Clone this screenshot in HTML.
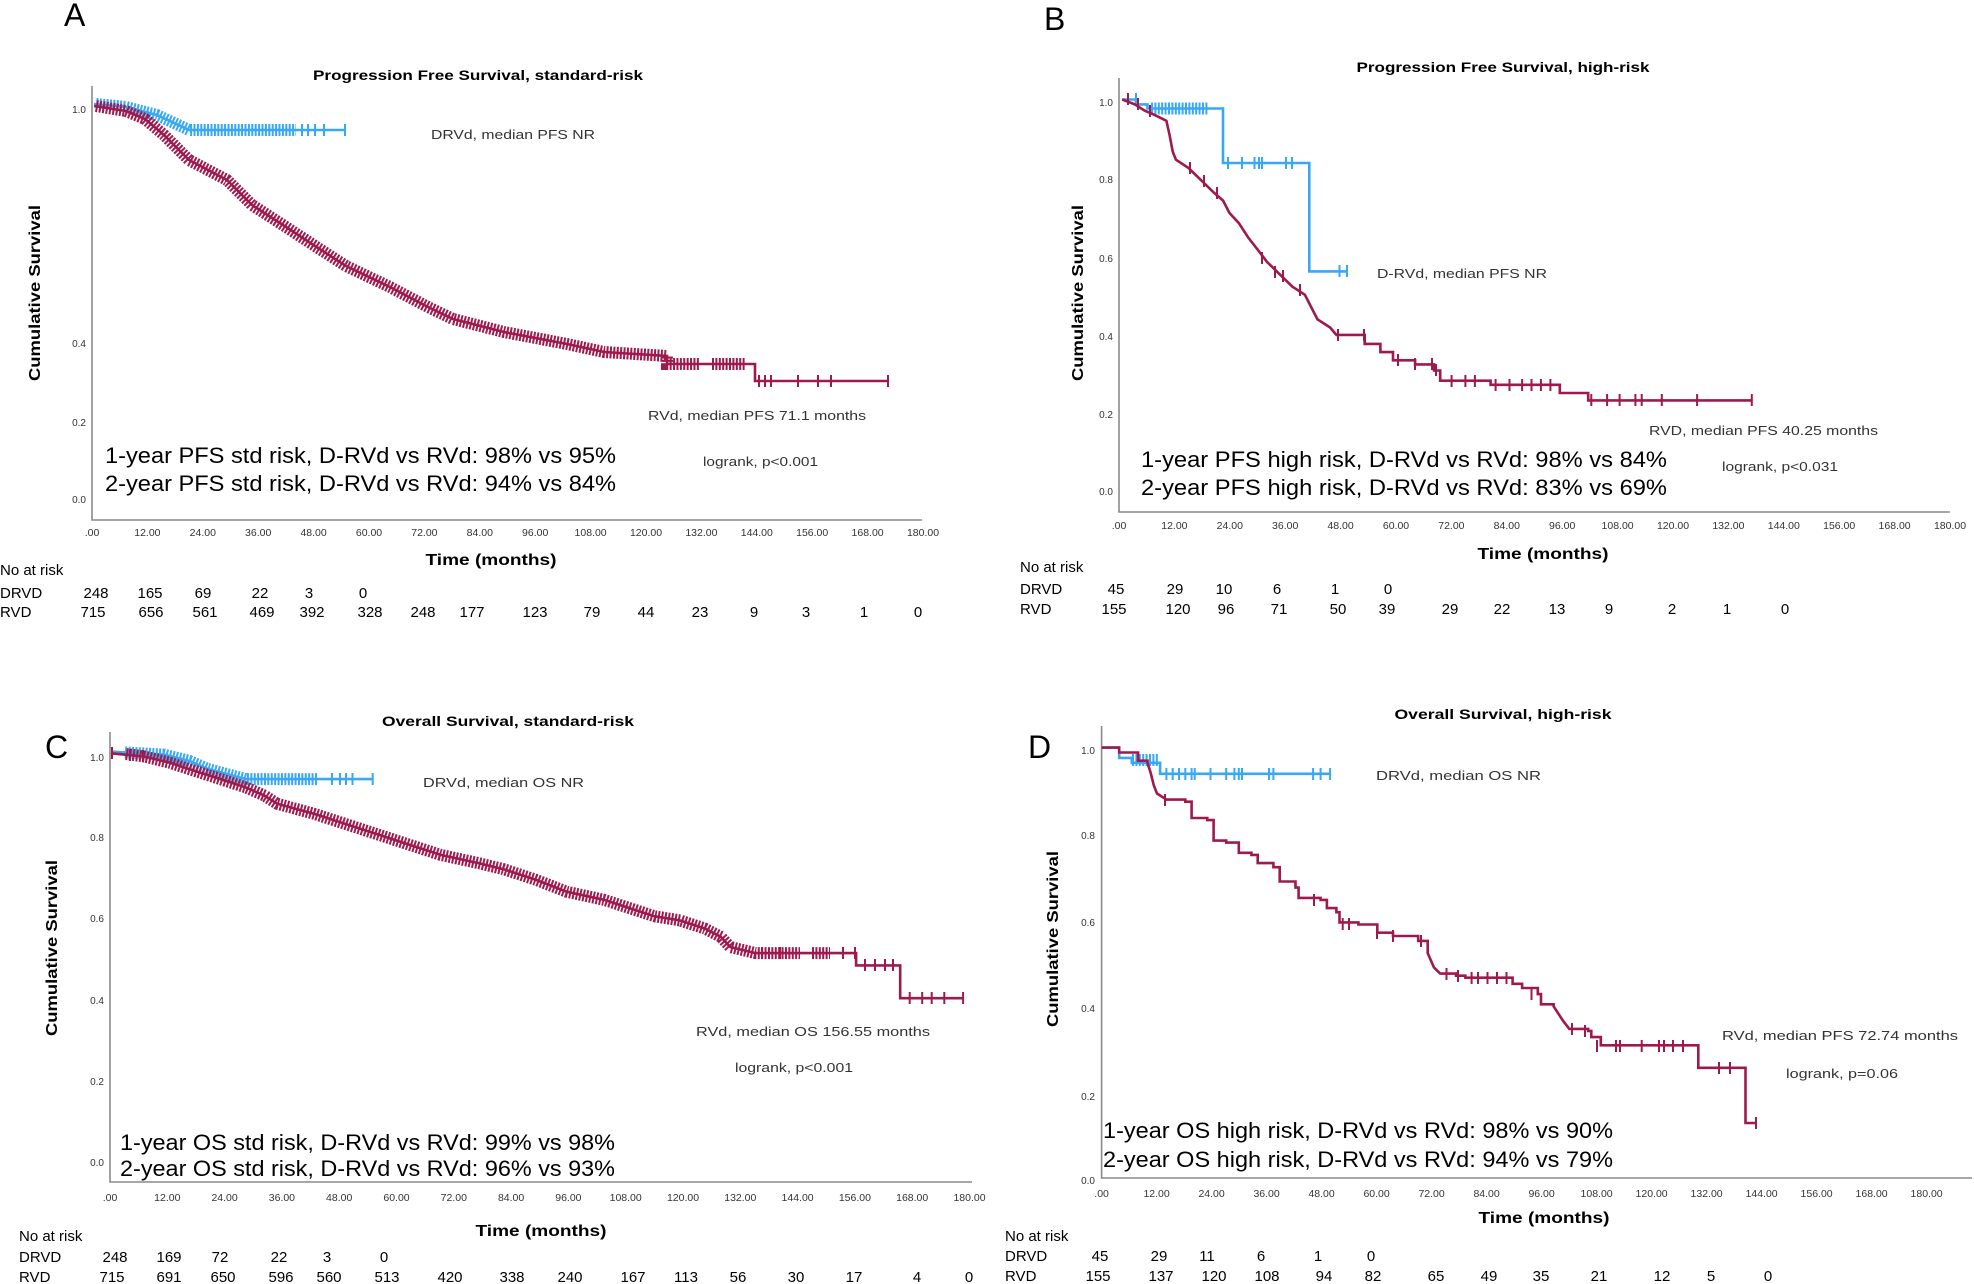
<!DOCTYPE html>
<html><head><meta charset="utf-8"><style>
html,body{margin:0;padding:0;background:#fff;}
svg{display:block;font-family:"Liberation Sans",Arial,sans-serif;}
.ax{stroke:#8a8a8a;stroke-width:1.6;fill:none}
.r{stroke:#9e1a4e;stroke-width:2.6;fill:none}
.b{stroke:#38a8f5;stroke-width:2.6;fill:none}
.rh{stroke:#9e1a4e;stroke-width:12;fill:none;stroke-dasharray:2 1.4}
.bh{stroke:#38a8f5;stroke-width:12;fill:none;stroke-dasharray:2 1.4}
.rt{stroke:#9e1a4e;stroke-width:2;fill:none}
.bt{stroke:#38a8f5;stroke-width:2;fill:none}
.yt{font-size:10px;fill:#333;text-anchor:end}
.xt{font-size:10.5px;fill:#333;text-anchor:middle}
.ti{font-size:14px;font-weight:bold;text-anchor:middle}
.tm{font-size:16px;font-weight:bold;text-anchor:middle}
.cs{font-size:16px;font-weight:bold;text-anchor:middle}
.an{font-size:13px;fill:#333}
.big{font-size:22px;fill:#000}
.nr{font-size:15px;fill:#000}
.nc{font-size:15px;fill:#000;text-anchor:middle}
.lt{font-size:32px;fill:#000}
</style></head><body>
<svg width="1974" height="1284" viewBox="0 0 1974 1284" xmlns="http://www.w3.org/2000/svg">

<text class="lt" x="64" y="26">A</text>
<text class="ti" x="478" y="80" textLength="330" lengthAdjust="spacingAndGlyphs">Progression Free Survival, standard-risk</text>
<path class="ax" d="M92 86 V520 H922"/>
<g class="yt"><text x="86" y="113">1.0</text><text x="86" y="347">0.4</text><text x="86" y="426">0.2</text><text x="86" y="503">0.0</text></g>
<g class="xt">
<text x="92" y="536">.00</text><text x="147.4" y="536">12.00</text><text x="202.8" y="536">24.00</text><text x="258.2" y="536">36.00</text><text x="313.6" y="536">48.00</text><text x="369" y="536">60.00</text><text x="424.4" y="536">72.00</text><text x="479.8" y="536">84.00</text><text x="535.2" y="536">96.00</text><text x="590.6" y="536">108.00</text><text x="646" y="536">120.00</text><text x="701.4" y="536">132.00</text><text x="756.8" y="536">144.00</text><text x="812.2" y="536">156.00</text><text x="867.6" y="536">168.00</text><text x="923" y="536">180.00</text>
</g>
<text class="tm" x="491" y="565" textLength="131" lengthAdjust="spacingAndGlyphs">Time (months)</text>
<text class="cs" transform="translate(40,293) rotate(-90)" textLength="176" lengthAdjust="spacingAndGlyphs">Cumulative Survival</text>
<text class="an" x="431" y="139" textLength="164" lengthAdjust="spacingAndGlyphs">DRVd, median PFS NR</text>
<text class="an" x="648" y="420" textLength="218" lengthAdjust="spacingAndGlyphs">RVd, median PFS 71.1 months</text>
<text class="an" x="703" y="466" textLength="115" lengthAdjust="spacingAndGlyphs">logrank, p&lt;0.001</text>
<text class="big" x="105" y="463" textLength="511" lengthAdjust="spacingAndGlyphs">1-year PFS std risk, D-RVd vs RVd: 98% vs 95%</text>
<text class="big" x="105" y="491" textLength="511" lengthAdjust="spacingAndGlyphs">2-year PFS std risk, D-RVd vs RVd: 94% vs 84%</text>
<text class="nr" x="0" y="575">No at risk</text>
<text class="nr" x="0" y="598">DRVD</text>
<text class="nr" x="0" y="617">RVD</text>
<g class="nc">
<text x="96" y="598">248</text><text x="150" y="598">165</text><text x="203" y="598">69</text><text x="260" y="598">22</text><text x="309" y="598">3</text><text x="363" y="598">0</text>
<text x="93" y="617">715</text><text x="151" y="617">656</text><text x="205" y="617">561</text><text x="262" y="617">469</text><text x="312" y="617">392</text><text x="370" y="617">328</text><text x="423" y="617">248</text><text x="472" y="617">177</text><text x="535" y="617">123</text><text x="592" y="617">79</text><text x="646" y="617">44</text><text x="700" y="617">23</text><text x="754" y="617">9</text><text x="806" y="617">3</text><text x="864" y="617">1</text><text x="918" y="617">0</text>
</g>
<path class="b" d="M94 104 L126 107 L157 115 L189 130 H345"/>
<path class="bh" d="M96 104 L126 107 L157 115 L189 130 H296"/>
<path class="bt" d="M302 124v12M308 124v12M315 124v12M324 124v12M345 124v12"/>
<path class="r" d="M94 106 L126 111 L145 119 L164 135 L189 160 L227 180 L252 205 L283 225 L315 246 L346 266 L390 287 L428 307 L453 319 L504 332 L567 344 L604 352 L667 356 V364 H755 V381 H888"/>
<path class="rh" d="M96 106 L126 111 L145 119 L164 135 L189 160 L227 180 L252 205 L283 225 L315 246 L346 266 L390 287 L428 307 L453 319 L504 332 L567 344 L604 352 L667 356 V364 H700 M712 364 H745"/>
<path class="rt" d="M759 375v12M765 375v12M771 375v12M798 375v12M818 375v12M831 375v12M888 375v12"/>

<text class="lt" x="1044" y="30">B</text>
<text class="ti" x="1503" y="72" textLength="293" lengthAdjust="spacingAndGlyphs">Progression Free Survival, high-risk</text>
<path class="ax" d="M1119 78 V512 H1950"/>
<g class="yt"><text x="1113" y="106">1.0</text><text x="1113" y="183">0.8</text><text x="1113" y="262">0.6</text><text x="1113" y="340">0.4</text><text x="1113" y="418">0.2</text><text x="1113" y="495">0.0</text></g>
<g class="xt">
<text x="1119" y="529">.00</text><text x="1174.4" y="529">12.00</text><text x="1229.8" y="529">24.00</text><text x="1285.2" y="529">36.00</text><text x="1340.6" y="529">48.00</text><text x="1396" y="529">60.00</text><text x="1451.4" y="529">72.00</text><text x="1506.8" y="529">84.00</text><text x="1562.2" y="529">96.00</text><text x="1617.6" y="529">108.00</text><text x="1673" y="529">120.00</text><text x="1728.4" y="529">132.00</text><text x="1783.8" y="529">144.00</text><text x="1839.2" y="529">156.00</text><text x="1894.6" y="529">168.00</text><text x="1950" y="529">180.00</text>
</g>
<text class="tm" x="1543" y="559" textLength="131" lengthAdjust="spacingAndGlyphs">Time (months)</text>
<text class="cs" transform="translate(1083,293) rotate(-90)" textLength="176" lengthAdjust="spacingAndGlyphs">Cumulative Survival</text>
<text class="an" x="1377" y="278" textLength="170" lengthAdjust="spacingAndGlyphs">D-RVd, median PFS NR</text>
<text class="an" x="1649" y="435" textLength="229" lengthAdjust="spacingAndGlyphs">RVD, median PFS 40.25 months</text>
<text class="an" x="1722" y="471" textLength="116" lengthAdjust="spacingAndGlyphs">logrank, p&lt;0.031</text>
<text class="big" x="1141" y="467" textLength="526" lengthAdjust="spacingAndGlyphs">1-year PFS high risk, D-RVd vs RVd: 98% vs 84%</text>
<text class="big" x="1141" y="495" textLength="526" lengthAdjust="spacingAndGlyphs">2-year PFS high risk, D-RVd vs RVd: 83% vs 69%</text>
<text class="nr" x="1020" y="572">No at risk</text>
<text class="nr" x="1020" y="594">DRVD</text>
<text class="nr" x="1020" y="614">RVD</text>
<g class="nc">
<text x="1116" y="594">45</text><text x="1175" y="594">29</text><text x="1224" y="594">10</text><text x="1277" y="594">6</text><text x="1335" y="594">1</text><text x="1388" y="594">0</text>
<text x="1114" y="614">155</text><text x="1178" y="614">120</text><text x="1226" y="614">96</text><text x="1279" y="614">71</text><text x="1338" y="614">50</text><text x="1387" y="614">39</text><text x="1450" y="614">29</text><text x="1502" y="614">22</text><text x="1557" y="614">13</text><text x="1609" y="614">9</text><text x="1672" y="614">2</text><text x="1727" y="614">1</text><text x="1785" y="614">0</text>
</g>
<path class="b" d="M1122 99.5 H1136 V104.4 H1147.5 V108.5 H1223 V163 H1309.3 V271.4 H1347"/>
<path class="bh" d="M1151 108.5 H1208"/>
<path class="bt" d="M1136 93v12M1228 157v12M1242 157v12M1254.5 157v12M1259 157v12M1262 157v12M1286 157v12M1292 157v12M1339.5 265v12M1347 265v12"/>
<path class="r" d="M1122.3 99.5 L1134.9 104.4 L1144.4 110.5 L1153.8 114.6 L1166.4 120.8 L1169.6 135.1 L1172.7 151.5 L1175.9 159.7 L1188.4 167.9 L1201 180.1 L1213.6 192.4 L1223.1 200.6 L1229.4 212.9 L1238.8 223.1 L1248.2 237.5 L1257.7 249.7 L1267.1 262 L1279.7 274.3 L1292.3 286.6 L1304.9 294.8 L1311.2 307.1 L1317.5 319.3 L1330.1 327.5 L1336.4 334.9 H1364.7 V343.9 H1380.4 V352.1 H1393 V360.3 H1415.1 V364.4 H1434 V370.5 H1440.2 V380.7 H1490.6 V384.8 H1559.8 V393 H1588.2 V400.4 H1751.8"/>
<path class="rt" d="M1128 93v12M1138 98v12M1150 105v12M1190 162v12M1204 175v12M1217 187v12M1262 252v12M1275 266v12M1283 270v12M1300 284v12M1338 329v12M1364 329v12M1398 354v12M1415 358v12M1432 358v12M1436 364v12M1451.6 375v12M1465.4 375v12M1474.9 375v12M1495.6 379v12M1509.5 379v12M1522.1 379v12M1531.5 379v12M1540.9 379v12M1550.4 379v12M1591.3 394v12M1607.1 394v12M1619.6 394v12M1635.4 394v12M1641.7 394v12M1661.8 394v12M1697.1 394v12M1751.8 394v12"/>

<text class="lt" x="45" y="758">C</text>
<text class="ti" x="508" y="726" textLength="252" lengthAdjust="spacingAndGlyphs">Overall Survival, standard-risk</text>
<path class="ax" d="M110 732 V1182 H972"/>
<g class="yt"><text x="104" y="761">1.0</text><text x="104" y="841">0.8</text><text x="104" y="922">0.6</text><text x="104" y="1004">0.4</text><text x="104" y="1085">0.2</text><text x="104" y="1166">0.0</text></g>
<g class="xt">
<text x="110" y="1201">.00</text><text x="167.3" y="1201">12.00</text><text x="224.6" y="1201">24.00</text><text x="281.9" y="1201">36.00</text><text x="339.2" y="1201">48.00</text><text x="396.5" y="1201">60.00</text><text x="453.8" y="1201">72.00</text><text x="511.1" y="1201">84.00</text><text x="568.4" y="1201">96.00</text><text x="625.7" y="1201">108.00</text><text x="683" y="1201">120.00</text><text x="740.3" y="1201">132.00</text><text x="797.6" y="1201">144.00</text><text x="854.9" y="1201">156.00</text><text x="912.2" y="1201">168.00</text><text x="969.5" y="1201">180.00</text>
</g>
<text class="tm" x="541" y="1236" textLength="131" lengthAdjust="spacingAndGlyphs">Time (months)</text>
<text class="cs" transform="translate(57,948) rotate(-90)" textLength="176" lengthAdjust="spacingAndGlyphs">Cumulative Survival</text>
<text class="an" x="423" y="787" textLength="161" lengthAdjust="spacingAndGlyphs">DRVd, median OS NR</text>
<text class="an" x="696" y="1036" textLength="234" lengthAdjust="spacingAndGlyphs">RVd, median OS 156.55 months</text>
<text class="an" x="735" y="1072" textLength="118" lengthAdjust="spacingAndGlyphs">logrank, p&lt;0.001</text>
<text class="big" x="120" y="1150" textLength="495" lengthAdjust="spacingAndGlyphs">1-year OS std risk, D-RVd vs RVd: 99% vs 98%</text>
<text class="big" x="120" y="1176" textLength="495" lengthAdjust="spacingAndGlyphs">2-year OS std risk, D-RVd vs RVd: 96% vs 93%</text>
<text class="nr" x="19" y="1241">No at risk</text>
<text class="nr" x="19" y="1262">DRVD</text>
<text class="nr" x="19" y="1282">RVD</text>
<g class="nc">
<text x="115" y="1262">248</text><text x="169" y="1262">169</text><text x="220" y="1262">72</text><text x="279" y="1262">22</text><text x="327" y="1262">3</text><text x="384" y="1262">0</text>
<text x="112" y="1282">715</text><text x="169" y="1282">691</text><text x="223" y="1282">650</text><text x="281" y="1282">596</text><text x="329" y="1282">560</text><text x="387" y="1282">513</text><text x="450" y="1282">420</text><text x="512" y="1282">338</text><text x="570" y="1282">240</text><text x="633" y="1282">167</text><text x="686" y="1282">113</text><text x="738" y="1282">56</text><text x="796" y="1282">30</text><text x="854" y="1282">17</text><text x="917" y="1282">4</text><text x="969" y="1282">0</text>
</g>
<path class="b" d="M112 751.7 L163.7 754.6 L188.9 760.7 L207.7 768.9 L245.5 779.1 H372.7"/>
<path class="bh" d="M125 752.5 L163.7 754.6 L188.9 760.7 L207.7 768.9 L245.5 779.1 H318"/>
<path class="bt" d="M332 773v12M340 773v12M346 773v12M352.5 773v12M372.7 773v12"/>
<path class="r" d="M112.1 753.4 L144.8 756.6 L170 762.8 L195.1 771 L220.3 779.1 L245.5 787.3 L264.4 795.5 L277 803.7 L314.8 814 L346.2 824.2 L377.7 834.4 L402.9 842.6 L440.7 854.9 L478.4 863.1 L503.6 869.2 L535.1 879.5 L566.6 891.7 L604.3 899.9 L629.5 908.1 L654.7 916.3 L679.9 920.4 L705 928.6 L720.8 936.8 L730.2 947 L755.4 953.1 H856.1 V965.4 H900.2 V998.2 H963.1"/>
<path class="rh" d="M126 754 L144.8 756.6 L170 762.8 L195.1 771 L220.3 779.1 L245.5 787.3 L264.4 795.5 L277 803.7 L314.8 814 L346.2 824.2 L377.7 834.4 L402.9 842.6 L440.7 854.9 L478.4 863.1 L503.6 869.2 L535.1 879.5 L566.6 891.7 L604.3 899.9 L629.5 908.1 L654.7 916.3 L679.9 920.4 L705 928.6 L720.8 936.8 L730.2 947 L755.4 953.1 H800 M812 953.1 H830"/>
<path class="rt" d="M112 747v12M130 749v12M143 750v12M762 947v12M780 947v12M843 947v12M855 947v12M865 959v12M875 959v12M885 959v12M893 959v12M909.7 992v12M922.2 992v12M931.7 992v12M944.3 992v12M963.1 992v12"/>

<text class="lt" x="1028" y="758">D</text>
<text class="ti" x="1503" y="719" textLength="217" lengthAdjust="spacingAndGlyphs">Overall Survival, high-risk</text>
<path class="ax" d="M1101.6 726 V1178 H1972"/>
<g class="yt"><text x="1095" y="754">1.0</text><text x="1095" y="839">0.8</text><text x="1095" y="926">0.6</text><text x="1095" y="1012">0.4</text><text x="1095" y="1100">0.2</text><text x="1095" y="1184">0.0</text></g>
<g class="xt">
<text x="1101.6" y="1197">.00</text><text x="1156.6" y="1197">12.00</text><text x="1211.6" y="1197">24.00</text><text x="1266.6" y="1197">36.00</text><text x="1321.6" y="1197">48.00</text><text x="1376.6" y="1197">60.00</text><text x="1431.6" y="1197">72.00</text><text x="1486.6" y="1197">84.00</text><text x="1541.6" y="1197">96.00</text><text x="1596.6" y="1197">108.00</text><text x="1651.6" y="1197">120.00</text><text x="1706.6" y="1197">132.00</text><text x="1761.6" y="1197">144.00</text><text x="1816.6" y="1197">156.00</text><text x="1871.6" y="1197">168.00</text><text x="1926.6" y="1197">180.00</text>
</g>
<text class="tm" x="1544" y="1223" textLength="131" lengthAdjust="spacingAndGlyphs">Time (months)</text>
<text class="cs" transform="translate(1058,939) rotate(-90)" textLength="176" lengthAdjust="spacingAndGlyphs">Cumulative Survival</text>
<text class="an" x="1376" y="780" textLength="165" lengthAdjust="spacingAndGlyphs">DRVd, median OS NR</text>
<text class="an" x="1722" y="1040" textLength="236" lengthAdjust="spacingAndGlyphs">RVd, median PFS 72.74 months</text>
<text class="an" x="1786" y="1078" textLength="112" lengthAdjust="spacingAndGlyphs">logrank, p=0.06</text>
<text class="big" x="1103" y="1138" textLength="510" lengthAdjust="spacingAndGlyphs">1-year OS high risk, D-RVd vs RVd: 98% vs 90%</text>
<text class="big" x="1103" y="1167" textLength="510" lengthAdjust="spacingAndGlyphs">2-year OS high risk, D-RVd vs RVd: 94% vs 79%</text>
<text class="nr" x="1005" y="1241">No at risk</text>
<text class="nr" x="1005" y="1261">DRVD</text>
<text class="nr" x="1005" y="1281">RVD</text>
<g class="nc">
<text x="1100" y="1261">45</text><text x="1159" y="1261">29</text><text x="1207" y="1261">11</text><text x="1261" y="1261">6</text><text x="1318" y="1261">1</text><text x="1371" y="1261">0</text>
<text x="1098" y="1281">155</text><text x="1161" y="1281">137</text><text x="1214" y="1281">120</text><text x="1267" y="1281">108</text><text x="1324" y="1281">94</text><text x="1373" y="1281">82</text><text x="1436" y="1281">65</text><text x="1489" y="1281">49</text><text x="1541" y="1281">35</text><text x="1599" y="1281">21</text><text x="1662" y="1281">12</text><text x="1711" y="1281">5</text><text x="1768" y="1281">0</text>
</g>
<path class="b" d="M1101.6 747.6 H1119.2 V757.9 H1131.8 V762.8 H1160.1 V773.8 H1330.1"/>
<path class="bh" d="M1132 760 H1158"/>
<path class="bt" d="M1166.4 768v12M1172.7 768v12M1179 768v12M1185.3 768v12M1191.6 768v12M1194.7 768v12M1210.5 768v12M1226.2 768v12M1234.4 768v12M1238.8 768v12M1242 768v12M1269 768v12M1273.4 768v12M1313.1 768v12M1320.6 768v12M1330.1 768v12"/>
<path class="r" d="M1101.6 747.6 H1119.2 V752.5 H1138.1 V760.7 H1147.5 V762.8 L1150.7 773 L1153.8 785.3 L1157 793.5 L1166.4 799.6 H1185.3 V801.7 H1191.6 V818 H1207.3 V820.1 H1213.6 V840.6 H1226.2 V842.6 H1238.8 V852.8 H1251.4 V854.9 H1257.7 V863.1 H1273.4 V867.2 H1279.7 V881.5 H1295.5 V887.6 H1298.6 V897.9 H1320.6 V899.9 H1326.9 V908.1 H1336.4 V912.2 H1339.5 V922.4 H1358.4 V924.5 H1377.3 V932.7 H1393 V936 H1418.2 V940.9 H1427.7 V953.1 L1434 967.5 L1440.2 973.6 H1456 V975.7 H1465.4 V977.7 H1512.6 V983.8 H1522.1 V988 H1537.8 V994.1 H1541 V1004.3 H1553.6 V1006.4 L1563 1020.7 L1569.3 1028.9 H1588.2 V1030.9 H1591.3 V1037.1 H1600.8 V1045.3 H1698.3 V1067.8 H1745.5 V1123 H1755"/>
<path class="rt" d="M1165 794v12M1314 894v12M1342.7 918v12M1349 918v12M1377 927v12M1393 930v12M1421 935v12M1446.5 968v12M1458 970v12M1471.6 972v12M1478 972v12M1487.5 972v12M1497 972v12M1506.5 972v12M1531.5 988v12M1572 1023v12M1585 1025v12M1597 1040v12M1616 1040v12M1620 1040v12M1641.7 1040v12M1659 1040v12M1664 1040v12M1673 1040v12M1683 1040v12M1719 1062v12M1730 1062v12M1756 1117v12"/>
</svg>
</body></html>
